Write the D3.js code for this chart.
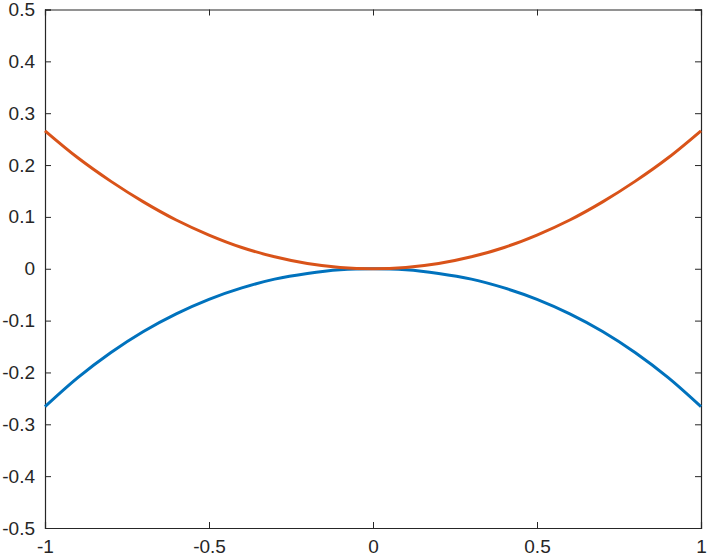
<!DOCTYPE html>
<html>
<head>
<meta charset="utf-8">
<script src="https://cdn.jsdelivr.net/npm/d3@7"></script>
<style>
  body { margin: 0; background: #fff; }
  .axis text { font-family: "Liberation Sans", Arial, sans-serif; font-size: 19px; fill: #262626; }
  .axis path, .axis line { stroke: #262626; }
</style>
</head>
<body>
<div id="chart"></div>
<script>

// values
var xs = [-1, -0.9, -0.8, -0.7, -0.6, -0.5, -0.4, -0.3, -0.2, -0.1, 0,
          0.1, 0.2, 0.3, 0.4, 0.5, 0.6, 0.7, 0.8, 0.9, 1];
var upper = [0.266, 0.214, 0.169, 0.129, 0.094, 0.065, 0.041, 0.023, 0.010, 0.0025, 0,
             0.0025, 0.010, 0.023, 0.041, 0.065, 0.094, 0.129, 0.169, 0.214, 0.266];
var lower = [-0.266, -0.210, -0.162, -0.121, -0.087, -0.059, -0.037, -0.020, -0.009, -0.002, 0,
             -0.002, -0.009, -0.020, -0.037, -0.059, -0.087, -0.121, -0.162, -0.210, -0.266];
var xTicks = [-1, -0.5, 0, 0.5, 1];
var yTicks = [-0.5, -0.4, -0.3, -0.2, -0.1, 0, 0.1, 0.2, 0.3, 0.4, 0.5];

var margin = { left: 45, right: 8, top: 9.5, bottom: 30 };
var width = 709 - margin.left - margin.right;
var height = 558 - margin.top - margin.bottom;

var svg = d3.select("#chart")
  .append("svg")
  .attr("width", 709)
  .attr("height", 558)
  .append("g")
  .attr("transform", "translate(" + margin.left + "," + margin.top + ")");

var x = d3.scaleLinear().domain([-1, 1]).range([0, width]);
var y = d3.scaleLinear().domain([-0.5, 0.5]).range([height, 0]);

var fmt = function(d){ return d3.format("")(d).replace("−", "-"); };

// bottom / left with labels, top / right ticks only
svg.append("g").attr("class", "axis")
  .attr("transform", "translate(0," + height + ")")
  .call(d3.axisBottom(x).tickValues(xTicks).tickSize(-6).tickPadding(12).tickFormat(fmt));
svg.append("g").attr("class", "axis")
  .call(d3.axisLeft(y).tickValues(yTicks).tickSize(-6).tickPadding(10).tickFormat(fmt));
svg.append("g").attr("class", "axis")
  .call(d3.axisTop(x).tickValues(xTicks).tickSize(-6).tickFormat(""));
svg.append("g").attr("class", "axis")
  .attr("transform", "translate(" + width + ",0)")
  .call(d3.axisRight(y).tickValues(yTicks).tickSize(-6).tickFormat(""));

svg.selectAll(".axis .domain").attr("stroke-width", 1.2);

var line = d3.line()
  .x(function(d){ return x(d[0]); })
  .y(function(d){ return y(d[1]); })
  .curve(d3.curveCatmullRom.alpha(0.5));

svg.append("path")
  .datum(xs.map(function(v, i){ return [v, lower[i]]; }))
  .attr("fill", "none")
  .attr("stroke", "#0072BD")
  .attr("stroke-width", 3)
  .attr("d", line);

svg.append("path")
  .datum(xs.map(function(v, i){ return [v, upper[i]]; }))
  .attr("fill", "none")
  .attr("stroke", "#D95319")
  .attr("stroke-width", 3)
  .attr("d", line);

</script>
</body>
</html>
